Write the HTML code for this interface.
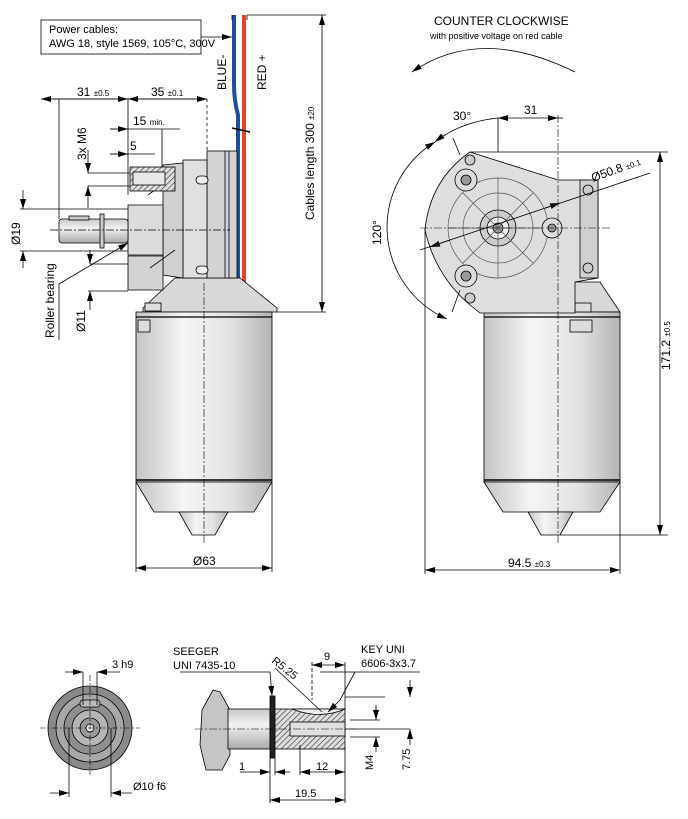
<!DOCTYPE html>
<html><head><meta charset="utf-8"><style>
html,body{margin:0;padding:0;background:#fff}
svg{display:block;font-family:"Liberation Sans",Arial,sans-serif}
</style></head><body>
<svg width="688" height="819" viewBox="0 0 688 819" xmlns="http://www.w3.org/2000/svg">
<defs>
<linearGradient id="cyl" x1="0" x2="1" y1="0" y2="0">
<stop offset="0" stop-color="#c4c4c4"/><stop offset="0.35" stop-color="#f5f5f5"/><stop offset="0.7" stop-color="#e2e2e2"/><stop offset="1" stop-color="#b4b4b4"/>
</linearGradient>
<linearGradient id="sh" x1="0" x2="0" y1="0" y2="1">
<stop offset="0" stop-color="#c9c9c9"/><stop offset="0.4" stop-color="#f2f2f2"/><stop offset="1" stop-color="#a9a9a9"/>
</linearGradient>
<pattern id="hatch" width="4" height="4" patternUnits="userSpaceOnUse" patternTransform="rotate(45)">
<rect width="4" height="4" fill="#ddd"/><line x1="0" y1="0" x2="0" y2="4" stroke="#333" stroke-width="1.2"/>
</pattern>
<marker id="a" markerWidth="10" markerHeight="6" refX="10" refY="3" orient="auto" markerUnits="userSpaceOnUse"><path d="M0,0L10,3L0,6z" fill="#000"/></marker>
<marker id="b" markerWidth="10" markerHeight="6" refX="0" refY="3" orient="auto" markerUnits="userSpaceOnUse"><path d="M10,0L0,3L10,6z" fill="#000"/></marker>
</defs>
<g stroke="#000" stroke-width="0.8" fill="none">

<path d="M234,15 V85 Q234,100 238,115 V285" stroke="#1f4fa0" stroke-width="4"/>
<path d="M244,15 V285" stroke="#e0442c" stroke-width="4"/>
<line x1="232" y1="15" x2="232" y2="20"/><line x1="247" y1="15" x2="247" y2="20"/>
<line x1="232" y1="128" x2="250" y2="132" stroke-width="1.5"/>
<rect x="41" y="20" width="160" height="34" fill="#fff"/>
<line x1="201" y1="37" x2="232" y2="37" marker-end="url(#a)"/>
<line x1="247" y1="15" x2="326" y2="15"/>
<line x1="277" y1="312" x2="326" y2="312"/>
<line x1="322" y1="15" x2="322" y2="312" marker-start="url(#b)" marker-end="url(#a)"/>

<path d="M175,278 L240,278 L277,308 L277,312 L143,312 L143,308 Z" fill="#d8d8d8"/>
<rect x="207" y="151" width="30" height="127" fill="#d3d3d3"/>
<line x1="225" y1="151" x2="225" y2="278"/><line x1="229" y1="151" x2="229" y2="278"/>
<rect x="183" y="160" width="24" height="118" fill="#e0e0e0"/>
<path d="M163,165 L183,163 L183,278 L163,275 Z" fill="#d0d0d0"/>
<path d="M128,205 L163,205 L163,255 L128,255 Z" fill="#dcdcdc"/>
<path d="M128,256 L163,256 L163,290 L128,290 Z" fill="#d3d3d3"/>
<path d="M148,195 L175,175 M150,268 L175,250"/>
<rect x="130" y="167" width="45" height="24" fill="url(#hatch)"/>
<rect x="133" y="172" width="32" height="13" fill="#e8e8e8"/>
<line x1="185" y1="230" x2="230" y2="230" stroke-dasharray="8,2,2,2"/>
<rect x="196" y="176" width="12" height="8" rx="4" fill="#eee"/>
<rect x="196" y="266" width="12" height="8" rx="4" fill="#eee"/>
<rect x="59" y="219" width="69" height="24" rx="3" fill="url(#sh)"/>
<rect x="100" y="214" width="4" height="34" fill="#ccc"/>
<rect x="69" y="216" width="20" height="4" fill="#ccc"/>
<line x1="50" y1="230" x2="185" y2="230" stroke-dasharray="8,2,2,2"/>
<rect x="136" y="312" width="136" height="170" fill="url(#cyl)"/>
<line x1="136" y1="317" x2="272" y2="317" stroke-width="1.2"/>
<line x1="136" y1="480" x2="272" y2="480" stroke-width="1.5"/>
<path d="M136,482 L272,482 L254,512 L154,512 Z" fill="url(#cyl)"/>
<path d="M179,512 L228,512 L215,535 L192,535 Z" fill="url(#cyl)"/>
<rect x="138" y="320" width="12" height="12" fill="#ddd"/>
<rect x="145" y="303" width="16" height="8" fill="#ddd"/>
<line x1="204" y1="283" x2="204" y2="545" stroke-dasharray="8,2,2,2" stroke-width="0.6"/>
<line x1="136" y1="482" x2="136" y2="572"/><line x1="272" y1="482" x2="272" y2="572"/>
<line x1="136" y1="568" x2="272" y2="568" marker-start="url(#b)" marker-end="url(#a)"/>
<line x1="41" y1="99" x2="207" y2="99"/>
<line x1="41" y1="99" x2="128" y2="99" marker-start="url(#b)" marker-end="url(#a)"/>
<line x1="128" y1="99" x2="207" y2="99" marker-start="url(#b)" marker-end="url(#a)"/>
<line x1="59" y1="99" x2="59" y2="219"/>
<line x1="128" y1="99" x2="128" y2="195"/>
<line x1="207" y1="99" x2="207" y2="151" stroke-dasharray="3,3"/>
<line x1="110" y1="129" x2="180" y2="129"/><line x1="110" y1="129" x2="128" y2="129" marker-end="url(#a)"/>
<line x1="162" y1="129" x2="162" y2="167"/>
<line x1="110" y1="154" x2="155" y2="154"/><line x1="110" y1="154" x2="128" y2="154" marker-end="url(#a)"/>
<line x1="88" y1="173" x2="130" y2="173"/><line x1="88" y1="186" x2="130" y2="186"/>
<line x1="88" y1="150" x2="88" y2="173" marker-end="url(#a)"/><line x1="88" y1="208" x2="88" y2="186" marker-end="url(#a)"/>
<line x1="20" y1="209" x2="128" y2="209"/><line x1="20" y1="251" x2="128" y2="251"/>
<line x1="23" y1="190" x2="23" y2="209" marker-end="url(#a)"/><line x1="23" y1="268" x2="23" y2="251" marker-end="url(#a)"/>
<line x1="88" y1="291" x2="128" y2="291"/>
<line x1="90" y1="250" x2="90" y2="264" marker-end="url(#a)"/><line x1="90" y1="310" x2="90" y2="291" marker-end="url(#a)"/>
<line x1="90" y1="264" x2="128" y2="264"/>
<path d="M59,284 L128,243" marker-end="url(#a)"/>
<line x1="59" y1="284" x2="59" y2="340"/>

<path d="M412,72 Q480,25 575,72" marker-start="url(#b)"/>
<path d="M497,282 L600,282 L620,312 L484,312 Z" fill="#d8d8d8"/>
<rect x="484" y="312" width="136" height="170" fill="url(#cyl)"/>
<line x1="484" y1="317" x2="620" y2="317" stroke-width="1.2"/>
<line x1="484" y1="480" x2="620" y2="480" stroke-width="1.5"/>
<path d="M484,482 L620,482 L600,512 L503,512 Z" fill="url(#cyl)"/>
<path d="M528,512 L573,512 L560,535 L541,535 Z" fill="url(#cyl)"/>
<rect x="570" y="320" width="22" height="12" fill="#ddd"/>
<rect x="575" y="303" width="16" height="9" fill="#ddd"/>
<path d="M470,152 L558,180 L598,180 L598,278 L575,282 L575,313 L480,313 L470,305 Q435,275 425,230 Q430,180 470,152 Z" fill="#dedede"/>
<rect x="580" y="180" width="18" height="98" fill="#d0d0d0"/>
<circle cx="498" cy="228" r="18" fill="#ccc"/><circle cx="498" cy="228" r="11" fill="#eee"/><circle cx="498" cy="228" r="5" fill="#aaa"/>
<g fill="none" stroke="#555" stroke-width="0.7">
<circle cx="498" cy="228" r="50"/><circle cx="498" cy="228" r="35"/>
<line x1="498" y1="178" x2="498" y2="278"/><line x1="448" y1="228" x2="548" y2="228"/>
<line x1="463" y1="193" x2="533" y2="263"/><line x1="533" y1="193" x2="463" y2="263"/>
</g>
<circle cx="466" cy="180" r="11" fill="#ddd"/><circle cx="466" cy="180" r="5" fill="#999"/>
<circle cx="466" cy="276" r="11" fill="#ddd"/><circle cx="466" cy="276" r="5" fill="#999"/>
<circle cx="552" cy="228" r="10" fill="#ddd"/><circle cx="552" cy="228" r="4" fill="#999"/>
<circle cx="470" cy="160" r="5" fill="#ccc"/><circle cx="470" cy="298" r="5" fill="#ccc"/>
<circle cx="588" cy="190" r="5" fill="#ccc"/><circle cx="588" cy="268" r="5" fill="#ccc"/>
<line x1="420" y1="228" x2="610" y2="228" stroke-dasharray="8,2,2,2" stroke-width="0.6"/>
<line x1="558" y1="115" x2="558" y2="545" stroke-dasharray="8,2,2,2" stroke-width="0.6"/>
<path d="M447,319 A100,100 0 0 1 435,142" marker-start="url(#b)" marker-end="url(#a)"/>
<path d="M435,142 Q460,122 498,118" marker-start="url(#b)"/>
<line x1="498" y1="118" x2="498" y2="152"/><line x1="498" y1="118" x2="558" y2="118" marker-start="url(#b)" marker-end="url(#a)"/>
<line x1="553" y1="118" x2="563" y2="118"/>
<line x1="452" y1="312" x2="460" y2="290"/><line x1="453" y1="138" x2="460" y2="155"/>
<line x1="420" y1="250" x2="650" y2="173"/>
<line x1="430" y1="247" x2="450" y2="240" marker-start="url(#b)"/>
<line x1="560" y1="203" x2="545" y2="208" marker-start="url(#b)"/>
<line x1="470" y1="152" x2="668" y2="152"/>
<line x1="560" y1="535" x2="668" y2="535"/>
<line x1="660" y1="152" x2="660" y2="535" marker-start="url(#b)" marker-end="url(#a)"/>
<line x1="425" y1="228" x2="425" y2="574"/><line x1="620" y1="482" x2="620" y2="574"/>
<line x1="425" y1="570" x2="620" y2="570" marker-start="url(#b)" marker-end="url(#a)"/>

<circle cx="90" cy="728" r="42" fill="#8a8a8a"/>
<circle cx="90" cy="728" r="34" fill="#a8a8a8"/>
<circle cx="90" cy="728" r="26" fill="#8e8e8e"/>
<circle cx="90" cy="728" r="18" fill="#b5b5b5"/>
<circle cx="90" cy="728" r="10" fill="#999"/>
<circle cx="90" cy="728" r="4" fill="#eee"/>
<rect x="80" y="700" width="20" height="7" rx="3" fill="#bbb"/>
<line x1="40" y1="728" x2="140" y2="728" stroke-dasharray="6,2,2,2" stroke-width="0.6"/>
<line x1="90" y1="675" x2="90" y2="775" stroke-dasharray="6,2,2,2" stroke-width="0.6"/>
<line x1="83" y1="672" x2="83" y2="705"/><line x1="97" y1="672" x2="97" y2="705"/>
<line x1="65" y1="672" x2="83" y2="672" marker-end="url(#a)"/><line x1="120" y1="672" x2="97" y2="672" marker-end="url(#a)"/>
<line x1="69" y1="728" x2="69" y2="797"/><line x1="111" y1="728" x2="111" y2="797"/>
<line x1="50" y1="793" x2="69" y2="793" marker-end="url(#a)"/><line x1="132" y1="793" x2="111" y2="793" marker-end="url(#a)"/>

<path d="M213,690 L220,692 L230,710 L230,755 L222,770 L206,770 L200,745 L202,710 Z" fill="#c5c5c5"/>
<rect x="228" y="709" width="42" height="40" fill="url(#sh)"/>
<rect x="270" y="696" width="5" height="62" fill="#222"/>
<rect x="275" y="709" width="70" height="40" fill="url(#hatch)"/>
<rect x="290" y="722" width="55" height="14" fill="#e0e0e0"/>
<path d="M292,709 Q320,720 345,709 Z" fill="#eee"/>
<line x1="195" y1="729" x2="360" y2="729" stroke-dasharray="8,2,2,2" stroke-width="0.6"/>
<path d="M180,672 L270,672 L272,696" marker-end="url(#a)"/>
<path d="M355,672 L340,700 L328,712" marker-end="url(#a)"/>
<path d="M275,668 L322,712"/>
<line x1="312" y1="662" x2="312" y2="700" stroke-dasharray="4,2"/>
<line x1="345" y1="662" x2="345" y2="710"/>
<line x1="312" y1="665" x2="345" y2="665" marker-start="url(#b)" marker-end="url(#a)"/>
<line x1="345" y1="697" x2="385" y2="697"/><line x1="320" y1="672" x2="420" y2="672"/>
<line x1="350" y1="720" x2="380" y2="720"/><line x1="350" y1="737" x2="380" y2="737"/>
<line x1="376" y1="705" x2="376" y2="720" marker-end="url(#a)"/><line x1="376" y1="752" x2="376" y2="737" marker-end="url(#a)"/>
<line x1="345" y1="729" x2="410" y2="729"/>
<line x1="410" y1="680" x2="410" y2="697" marker-end="url(#a)"/><line x1="410" y1="745" x2="410" y2="729" marker-end="url(#a)"/>
<line x1="270" y1="758" x2="270" y2="803"/><line x1="275" y1="758" x2="275" y2="775"/>
<line x1="345" y1="749" x2="345" y2="803"/><line x1="300" y1="745" x2="300" y2="775"/>
<line x1="240" y1="772" x2="270" y2="772" marker-end="url(#a)"/><line x1="290" y1="772" x2="275" y2="772" marker-end="url(#a)"/>
<line x1="300" y1="772" x2="345" y2="772" marker-start="url(#b)" marker-end="url(#a)"/>
<line x1="270" y1="800" x2="345" y2="800" marker-start="url(#b)" marker-end="url(#a)"/>
</g>

<g fill="#000" font-size="11">
<text x="49" y="33">Power cables:</text>
<text x="49" y="47">AWG 18, style 1569, 105°C, 300V</text>
<text transform="translate(226,90) rotate(-90)" font-size="12">BLUE-</text>
<text transform="translate(266,90) rotate(-90)" font-size="12">RED +</text>
<text transform="translate(314,220) rotate(-90)" font-size="12">Cables length  300 <tspan font-size="8">±20</tspan></text>
<text x="77" y="96" font-size="12">31 <tspan font-size="8">±0.5</tspan></text>
<text x="151" y="96" font-size="12">35 <tspan font-size="8">±0.1</tspan></text>
<text x="133" y="125" font-size="12">15 <tspan font-size="8">min.</tspan></text>
<text x="130" y="150" font-size="12">5</text>
<text transform="translate(86,160) rotate(-90)" font-size="12">3x M6</text>
<text transform="translate(20,245) rotate(-90)" font-size="12">Ø19</text>
<text transform="translate(54,338) rotate(-90)" font-size="12">Roller bearing</text>
<text transform="translate(85,332) rotate(-90)" font-size="12">Ø11</text>
<text x="193" y="565" font-size="12">Ø63</text>
<text x="434" y="25" font-size="12">COUNTER CLOCKWISE</text>
<text x="430" y="39" font-size="9">with positive voltage on red cable</text>
<text x="453" y="120" font-size="12">30°</text>
<text x="524" y="114" font-size="12">31</text>
<text transform="translate(593,182) rotate(-20)" font-size="12">Ø50.8 <tspan font-size="8">±0.1</tspan></text>
<text transform="translate(381,245) rotate(-90)" font-size="12">120°</text>
<text transform="translate(670,370) rotate(-90)" font-size="12">171.2 <tspan font-size="8">±0.5</tspan></text>
<text x="508" y="567" font-size="12">94.5 <tspan font-size="8">±0.3</tspan></text>
<text x="112" y="668" font-size="11">3 h9</text>
<text x="133" y="790" font-size="11">Ø10 f6</text>
<text x="173" y="655" font-size="11">SEEGER</text>
<text x="173" y="669" font-size="11">UNI 7435-10</text>
<text transform="translate(271,662) rotate(38)" font-size="11">R5.25</text>
<text x="324" y="660" font-size="11">9</text>
<text x="361" y="653" font-size="11">KEY UNI</text>
<text x="361" y="667" font-size="11">6606-3x3.7</text>
<text x="239" y="770" font-size="11">1</text>
<text x="316" y="770" font-size="11">12</text>
<text x="295" y="797" font-size="11">19.5</text>
<text transform="translate(373,770) rotate(-90)" font-size="11">M4</text>
<text transform="translate(410,770) rotate(-90)" font-size="11">7.75</text>
</g>
</svg>
</body></html>
